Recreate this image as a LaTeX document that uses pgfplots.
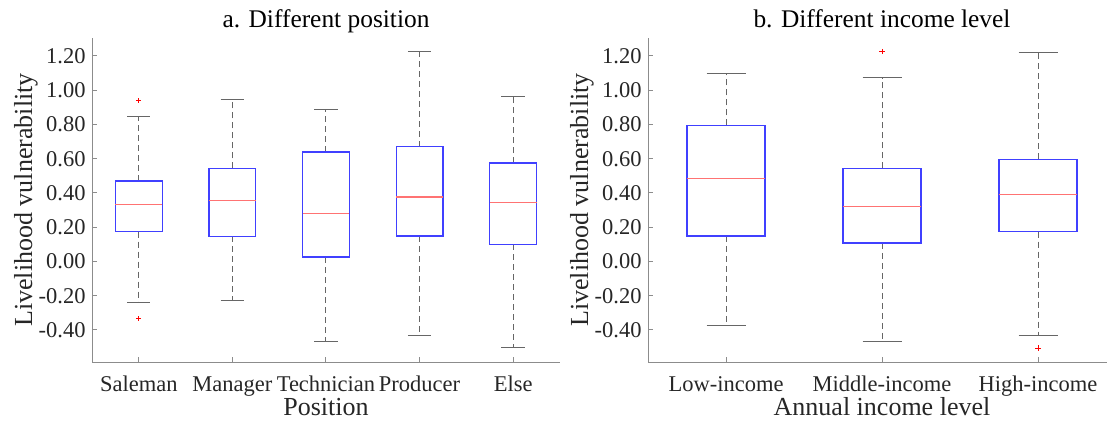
\documentclass[border=0pt]{standalone}
\usepackage{fontspec}
\setmainfont{Liberation Serif}
\usepackage{pgfplots}
\pgfplotsset{compat=1.18}
\usepgfplotslibrary{statistics}

\definecolor{boxblue}{rgb}{0.25,0.25,1}
\definecolor{medred}{rgb}{1,0.45,0.45}

\pgfplotsset{
  every axis title shift=0pt,
  mat/.style={
    scale only axis, width=234pt, height=162pt,
    axis lines=left,
    axis line style={-, draw=black!45, line width=0.5pt},
    ymin=-0.587, ymax=1.305,
    ytick={-0.4,-0.2,0,0.2,0.4,0.6,0.8,1.0,1.2},
    yticklabels={-0.40,-0.20,0.00,0.20,0.40,0.60,0.80,1.00,1.20},
    tick align=inside, major tick length=2.5pt,
    tick style={black!45, line width=0.5pt},
    ticklabel style={font=\fontsize{11.25}{13}\selectfont, text=black!85},
    yticklabel style={anchor=east, inner sep=0pt, xshift=-3pt},
    xticklabel style={anchor=base, inner sep=0pt, yshift=-14.5pt},
    title style={at={(axis description cs:0.5,1)}, anchor=base, yshift=5pt, inner sep=0pt, font=\fontsize{12.7}{15}\selectfont},
    xlabel style={at={(axis description cs:0.5,-0.1636)}, anchor=base, inner sep=0pt, font=\fontsize{13}{15}\selectfont, text=black!85},
    ylabel style={at={(axis description cs:-0.128,0.5)}, anchor=base, inner sep=0pt, font=\fontsize{13}{15}\selectfont, text=black!85},
    boxplot/draw direction=y,
    boxplot/box extend=0.5,
    boxplot/whisker extend=0.25,
    boxplot/every median/.style={draw=medred, line width=0.6pt},
    boxplot/draw/lower whisker/.code={
      \draw[black!60, line width=0.5pt, dash pattern=on 3pt off 2pt]
        (boxplot box cs:\pgfplotsboxplotvalue{lower quartile},0.5) --
        (boxplot box cs:\pgfplotsboxplotvalue{lower whisker},0.5);
      \draw[black!60, line width=0.5pt]
        (boxplot whisker cs:\pgfplotsboxplotvalue{lower whisker},0) --
        (boxplot whisker cs:\pgfplotsboxplotvalue{lower whisker},1);
    },
    boxplot/draw/upper whisker/.code={
      \draw[black!60, line width=0.5pt, dash pattern=on 3pt off 2pt]
        (boxplot box cs:\pgfplotsboxplotvalue{upper quartile},0.5) --
        (boxplot box cs:\pgfplotsboxplotvalue{upper whisker},0.5);
      \draw[black!60, line width=0.5pt]
        (boxplot whisker cs:\pgfplotsboxplotvalue{upper whisker},0) --
        (boxplot whisker cs:\pgfplotsboxplotvalue{upper whisker},1);
    },
    clip=false,
  },
  bx/.style={draw=boxblue, line width=0.65pt, mark=+, mark size=1.3pt,
    mark options={draw=red, solid, line width=0.4pt}},
}

\begin{document}
\begin{tikzpicture}
\useasboundingbox (0,0) rectangle (553.5pt,211.5pt);

\begin{axis}[mat, at={(46pt,30.5pt)}, anchor=south west,
  xmin=0.5, xmax=5.5,
  xtick={1,2,3,4,5},
  xticklabels={Saleman,Manager,Technician,Producer,Else},
  title={a. Different position},
  xlabel={Position},
  ylabel={Livelihood vulnerability}]
\addplot[bx, boxplot prepared={draw position=1, lower whisker=-0.237, lower quartile=0.174, median=0.335, upper quartile=0.470, upper whisker=0.848}] coordinates {(0,0.938) (0,-0.335)};
\addplot[bx, boxplot prepared={draw position=2, lower whisker=-0.229, lower quartile=0.147, median=0.356, upper quartile=0.543, upper whisker=0.948}] coordinates {};
\addplot[bx, boxplot prepared={draw position=3, lower whisker=-0.470, lower quartile=0.026, median=0.282, upper quartile=0.640, upper whisker=0.889}] coordinates {};
\addplot[bx, boxplot prepared={draw position=4, lower whisker=-0.430, lower quartile=0.149, median=0.376, upper quartile=0.670, upper whisker=1.227}] coordinates {};
\addplot[bx, boxplot prepared={draw position=5, lower whisker=-0.505, lower quartile=0.100, median=0.346, upper quartile=0.575, upper whisker=0.965}] coordinates {};
\end{axis}

\begin{axis}[mat, at={(324pt,30.5pt)}, anchor=south west,
  xmin=0.5, xmax=3.5,
  xtick={1,2,3},
  xticklabels={Low-income,Middle-income,High-income},
  title={b. Different income level},
  xlabel={Annual income level},
  ylabel={Livelihood vulnerability}]
\addplot[bx, boxplot prepared={draw position=1, lower whisker=-0.373, lower quartile=0.149, median=0.486, upper quartile=0.795, upper whisker=1.100}] coordinates {};
\addplot[bx, boxplot prepared={draw position=2, lower whisker=-0.470, lower quartile=0.108, median=0.319, upper quartile=0.543, upper whisker=1.073}] coordinates {(0,1.227)};
\addplot[bx, boxplot prepared={draw position=3, lower whisker=-0.430, lower quartile=0.174, median=0.392, upper quartile=0.597, upper whisker=1.221}] coordinates {(0,-0.505)};
\end{axis}
\end{tikzpicture}
\end{document}
